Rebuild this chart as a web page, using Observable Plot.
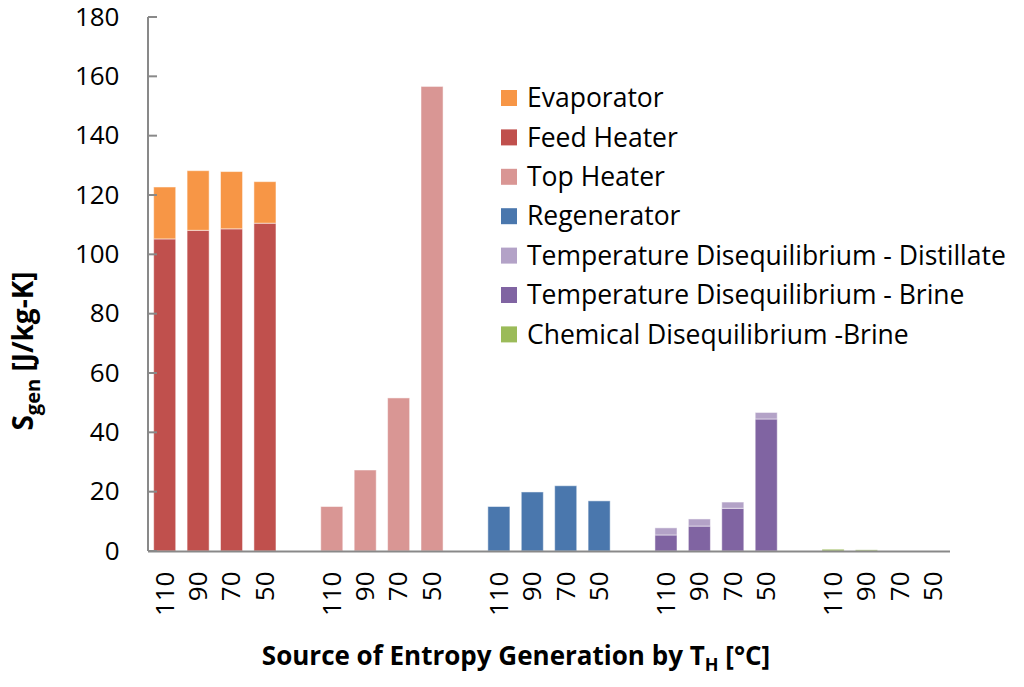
<!DOCTYPE html>
<html>
<head>
<meta charset="utf-8">
<script src="https://cdn.jsdelivr.net/npm/d3@7"></script>
<script src="https://cdn.jsdelivr.net/npm/@observablehq/plot@0.6"></script>
<style>
  body {margin: 0; background: #fff;}
  #chart {width: 1024px; height: 687px;}
</style>
</head>
<body>
<div id="chart"></div>
<script>
// temperatures T_H for each group of bars
const temps = ['110', '90', '70', '50']
const groups = ['evap', 'top', 'regen', 'tdis', 'chem']

const series = [
  'Evaporator',
  'Feed Heater',
  'Top Heater',
  'Regenerator',
  'Temperature Disequilibrium - Distillate',
  'Temperature Disequilibrium - Brine',
  'Chemical Disequilibrium -Brine',
]
const colors = ['#f79646', '#c0504d', '#d99694', '#4a77ad', '#b3a2c7', '#8064a2', '#9bbb59']

// values, J/kg-K
const evaporator   = [17.5, 20.1, 19.3, 14.0]
const feedHeater   = [105.2, 108.1, 108.6, 110.5]
const topHeater    = [15.0, 27.3, 51.6, 156.6]
const regenerator  = [15.0, 19.9, 22.0, 16.9]
const tdDistillate = [2.4, 2.4, 2.1, 2.2]
const tdBrine      = [5.4, 8.4, 14.4, 44.5]
const chemical     = [0.6, 0.4, 0.0, 0.0]

const yTicks = [0, 20, 40, 60, 80, 100, 120, 140, 160, 180]

// which series go in which group (bottom first)
const groupSeries = {
  evap: [['Feed Heater', feedHeater], ['Evaporator', evaporator]],
  top: [['Top Heater', topHeater]],
  regen: [['Regenerator', regenerator]],
  tdis: [['Temperature Disequilibrium - Brine', tdBrine], ['Temperature Disequilibrium - Distillate', tdDistillate]],
  chem: [['Chemical Disequilibrium -Brine', chemical]],
}
const stackOrder = ['Feed Heater', 'Evaporator', 'Top Heater', 'Regenerator',
  'Temperature Disequilibrium - Brine', 'Temperature Disequilibrium - Distillate', 'Chemical Disequilibrium -Brine']

// band slots, with an empty slot between groups
const slots = []
const rows = []
groups.forEach((g, gi) => {
  if (gi > 0) slots.push('gap' + gi)
  temps.forEach((t, ti) => {
    const key = g + '|' + t
    slots.push(key)
    groupSeries[g].forEach(([name, vals]) => {
      rows.push({slot: key, series: name, value: vals[ti]})
    })
  })
})

const font = '"Open Sans", sans-serif'

const chart = Plot.plot({
  width: 1024,
  height: 687,
  marginLeft: 148,
  marginRight: 74,
  marginTop: 17,
  marginBottom: 136,
  style: {fontFamily: font, color: '#000', background: '#fff'},
  // range widened by half a padding so the 24 slots fill the frame evenly
  x: {domain: slots, padding: 0.34, range: [142.3, 955.7], round: false, label: null},
  y: {domain: [0, 180], label: null},
  color: {domain: series, range: colors},
  marks: [
    Plot.barY(rows, {x: 'slot', y: 'value', fill: 'series', order: stackOrder, stroke: '#fff', strokeOpacity: 0.5, strokeWidth: 1}),
    Plot.ruleY([0], {stroke: '#898989', strokeWidth: 2}),
    Plot.axisY({ticks: yTicks, tickSize: 0, tickPadding: 29, fontSize: 26, label: null}),
    Plot.axisX({tickSize: 0, tickRotate: -90, tickPadding: 20, fontSize: 26, label: null,
      tickFormat: s => s.startsWith('gap') ? '' : s.split('|')[1]}),
  ],
})

const svg = d3.select(chart)
const y = chart.scale('y')

// y axis line and inward ticks
const ax = svg.append('g').attr('stroke', '#898989').attr('stroke-width', 2)
ax.append('line').attr('x1', 148).attr('x2', 148).attr('y1', y.apply(0)).attr('y2', y.apply(180))
ax.selectAll('.t').data(yTicks).join('line')
  .attr('x1', 148).attr('x2', 157)
  .attr('y1', d => y.apply(d)).attr('y2', d => y.apply(d))

// legend inside the plot
const leg = svg.append('g').attr('font-family', font).attr('font-size', 26.5).attr('text-anchor', 'start')
series.forEach((s, i) => {
  const cy = 98 + i * 39.4
  leg.append('rect').attr('x', 501).attr('y', cy - 8).attr('width', 16).attr('height', 16).attr('fill', colors[i])
  leg.append('text').attr('x', 527).attr('y', cy).attr('dy', '0.35em').text(s)
})

// axis titles with subscripts
const xt = svg.append('text').attr('x', 516).attr('y', 665).attr('text-anchor', 'middle')
  .attr('font-family', font).attr('font-weight', 'bold').attr('font-size', 26)
xt.append('tspan').text('Source of Entropy Generation by T')
xt.append('tspan').attr('font-size', 18).attr('dy', 6).text('H')
xt.append('tspan').attr('dy', -6).text(' [°C]')

const yt = svg.append('text').attr('transform', 'translate(33,351) rotate(-90)').attr('text-anchor', 'middle')
  .attr('font-family', font).attr('font-weight', 'bold').attr('font-size', 28)
yt.append('tspan').text('S')
yt.append('tspan').attr('font-size', 20).attr('dy', 7).text('gen')
yt.append('tspan').attr('dy', -7).text(' [J/kg-K]')

d3.select('#chart').append(() => chart)
</script>
</body>
</html>
